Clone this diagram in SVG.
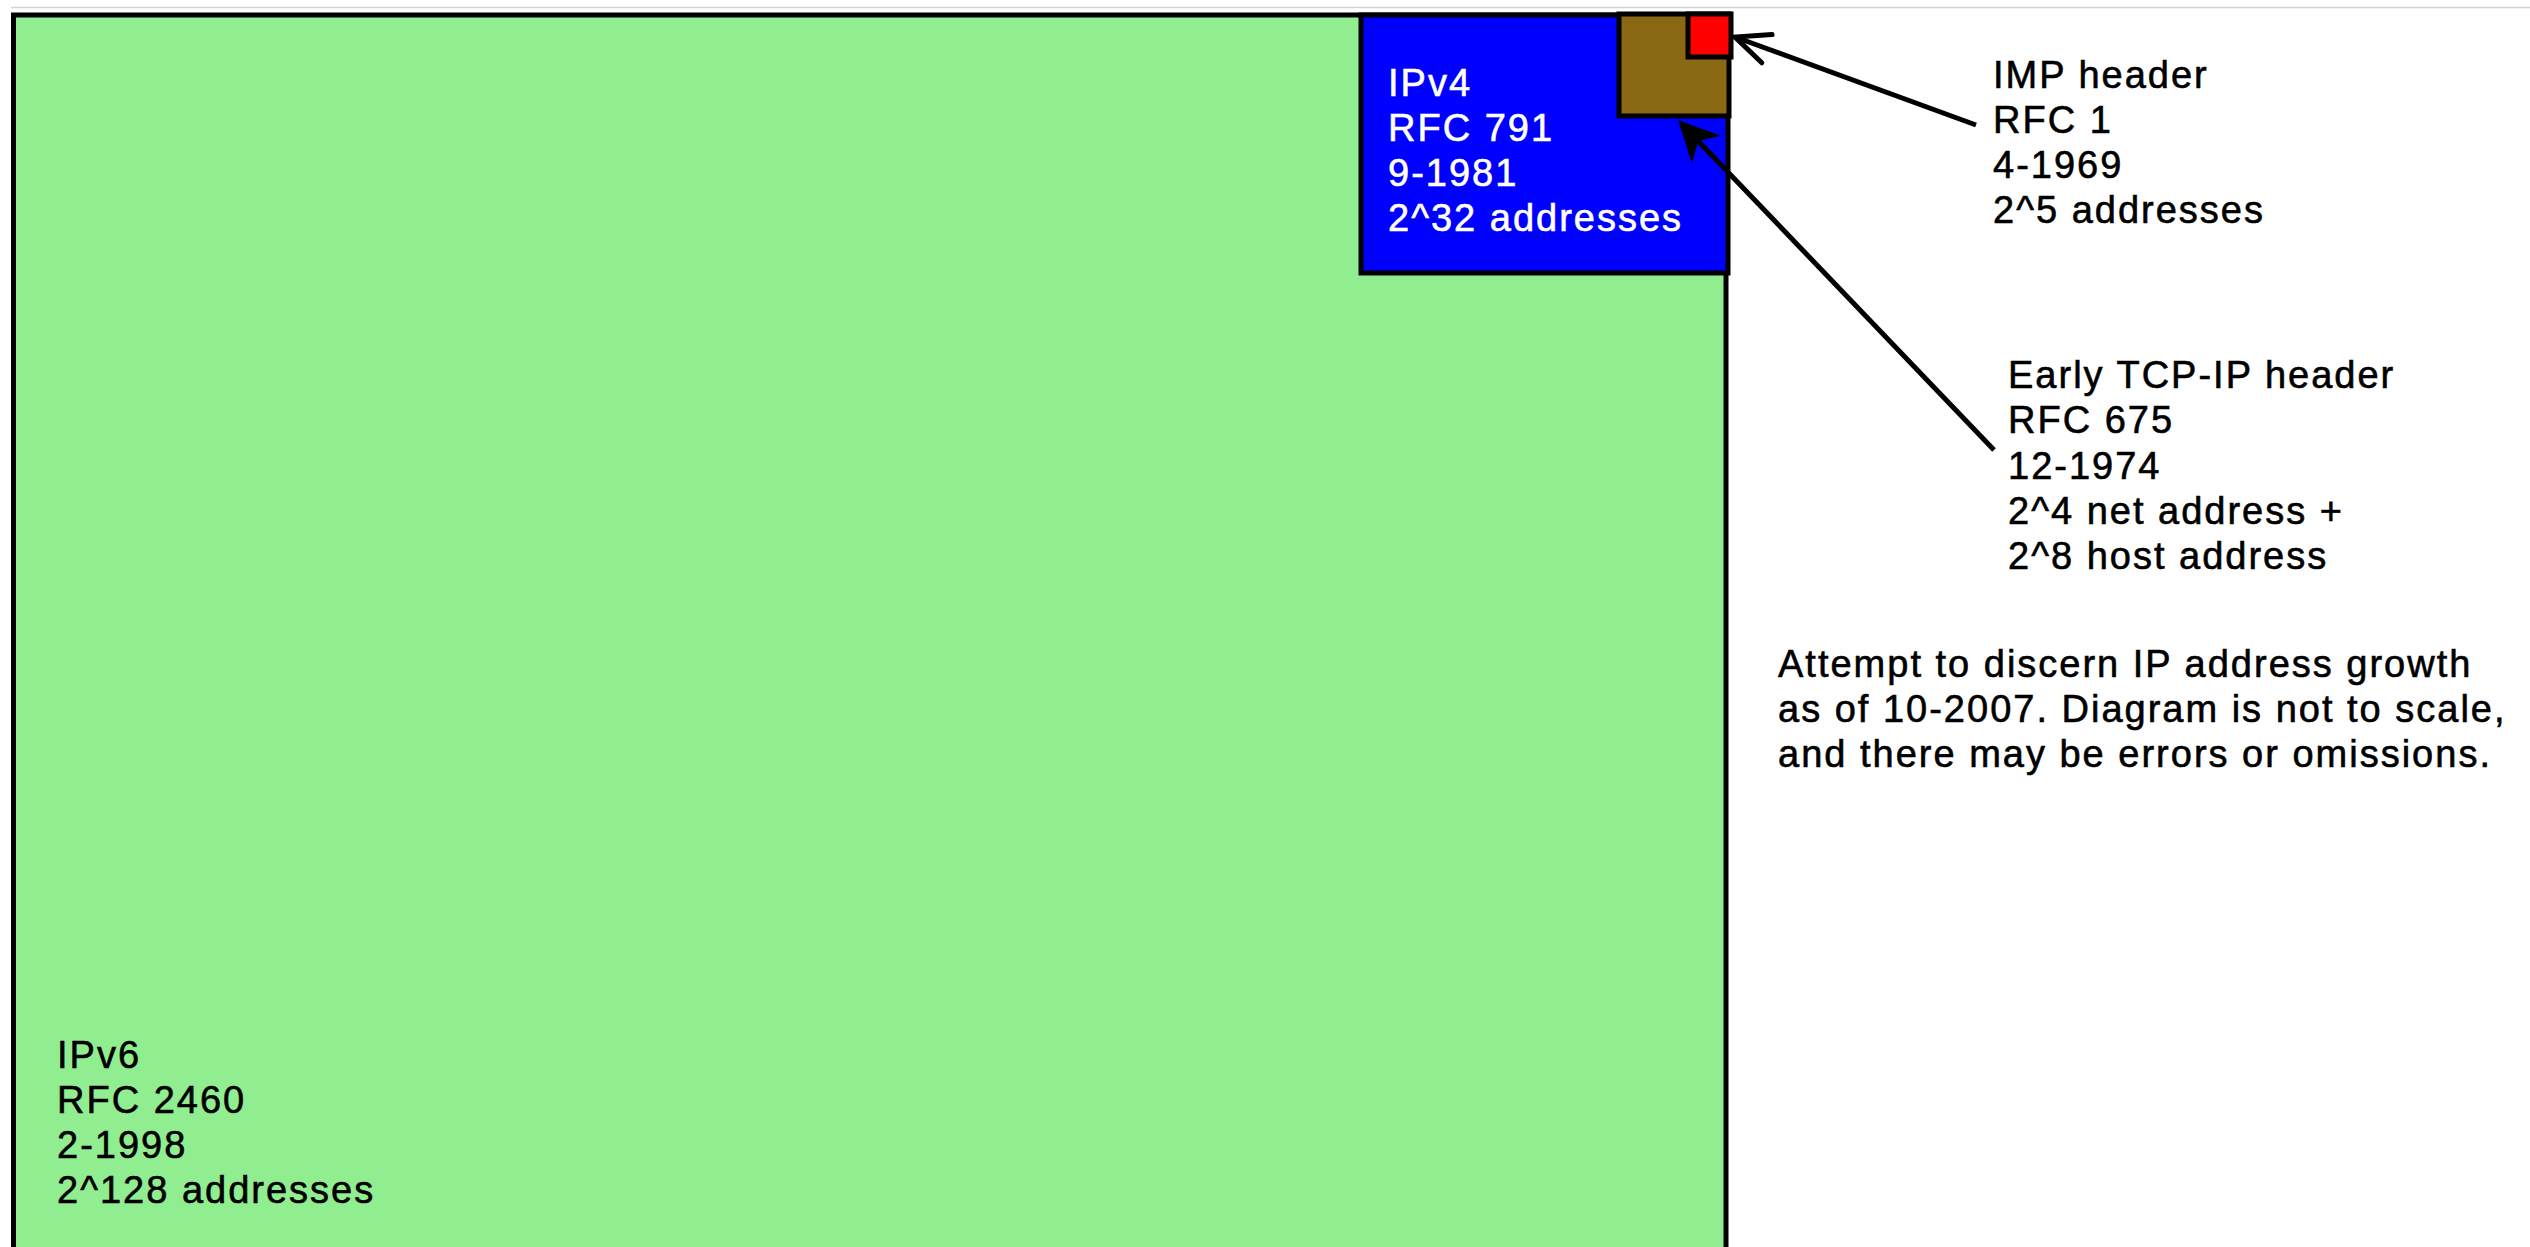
<svg xmlns="http://www.w3.org/2000/svg" width="2530" height="1247" viewBox="0 0 2530 1247">
  <style>
    .box { stroke: #000; stroke-width: 5; }
    .lbl { font-family: "Liberation Sans", Arial, sans-serif; font-size: 38px; letter-spacing: 2px; fill: #000; stroke: #000; stroke-width: 0.6px; }
    .white { fill: #fff; stroke: #fff; }
    .conn { stroke: #000; stroke-width: 5; fill: none; }
  </style>
  <defs>
    <marker id="openArrow" markerUnits="userSpaceOnUse" markerWidth="80" markerHeight="80" refX="0" refY="0" orient="auto" overflow="visible">
      <path d="M-34,-15 L0,0 L-34,15" fill="none" stroke="#000" stroke-width="5" stroke-linecap="round"/>
    </marker>
    <marker id="stealthArrow" markerUnits="userSpaceOnUse" markerWidth="80" markerHeight="80" refX="0" refY="0" orient="auto" overflow="visible">
      <path d="M29,0 L-12,-20 L0,0 L-12,20 Z" fill="#000"/>
    </marker>
  </defs>
  <rect width="2530" height="1247" fill="#fff"/>
  <line x1="11" y1="7.5" x2="2530" y2="7.5" stroke="#d4d4d4" stroke-width="1.5"/>

  <g id="ipv6">
    <rect class="box" x="13.5" y="15" width="1712.5" height="1250" fill="#90EE90"/>
    <text class="lbl" x="57" y="1068">IPv6</text>
    <text class="lbl" x="57" y="1113">RFC 2460</text>
    <text class="lbl" x="57" y="1158">2-1998</text>
    <text class="lbl" x="57" y="1203">2^128 addresses</text>
  </g>

  <g id="ipv4">
    <rect class="box" x="1361" y="15" width="367" height="258" fill="#0000FF"/>
    <text class="lbl white" x="1388" y="96">IPv4</text>
    <text class="lbl white" x="1388" y="141">RFC 791</text>
    <text class="lbl white" x="1388" y="186">9-1981</text>
    <text class="lbl white" x="1388" y="231">2^32 addresses</text>
  </g>

  <g id="tcpip">
    <rect class="box" x="1619" y="14" width="110" height="102" fill="#8B6914"/>
  </g>

  <g id="imp">
    <rect class="box" x="1688" y="14" width="43" height="43" fill="#FF0000"/>
  </g>

  <g id="connectors">
    <line class="conn" x1="1976" y1="125" x2="1735" y2="37" marker-end="url(#openArrow)"/>
    <line class="conn" x1="1994" y1="450" x2="1698.1" y2="140.9" marker-end="url(#stealthArrow)"/>
  </g>

  <g id="imp-label">
    <text class="lbl" x="1993" y="88">IMP header</text>
    <text class="lbl" x="1993" y="133">RFC 1</text>
    <text class="lbl" x="1993" y="178">4-1969</text>
    <text class="lbl" x="1993" y="223">2^5 addresses</text>
  </g>

  <g id="tcpip-label">
    <text class="lbl" x="2008" y="388">Early TCP-IP header</text>
    <text class="lbl" x="2008" y="433">RFC 675</text>
    <text class="lbl" x="2008" y="479">12-1974</text>
    <text class="lbl" x="2008" y="524">2^4 net address +</text>
    <text class="lbl" x="2008" y="569">2^8 host address</text>
  </g>

  <g id="note">
    <text class="lbl" x="1778" y="677">Attempt to discern IP address growth</text>
    <text class="lbl" x="1778" y="722">as of 10-2007. Diagram is not to scale,</text>
    <text class="lbl" x="1778" y="767">and there may be errors or omissions.</text>
  </g>
</svg>
